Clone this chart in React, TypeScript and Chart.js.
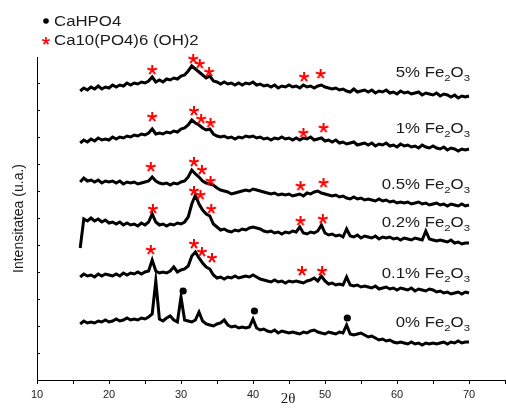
import React, { useEffect, useRef } from 'react';
import { Chart, registerables } from 'chart.js';

Chart.register(...registerables);

// 2θ sampling of every pattern: from 16° to 70° every 0.5°
const TWO_THETA_START = 16;
const TWO_THETA_STEP = 0.5;

// Intensities (a.u., already offset for stacking), one value per 0.5° step
const fe5 = [
  289, 292, 290, 293, 291, 294, 291, 293, 292, 295,
  293, 295, 294, 297, 295, 297, 296, 298, 297, 299,
  303, 298, 300, 298, 301, 300, 302, 301, 304, 305,
  309, 314, 311, 308, 305, 302, 304, 299, 298, 296,
  298, 296, 297, 295, 297, 295, 297, 296, 298, 295,
  296, 294, 295, 293, 295, 292, 294, 293, 295, 293,
  294, 292, 295, 293, 294, 292, 294, 295, 293, 292,
  291, 292, 290, 291, 289, 288, 291, 288, 289, 290,
  288, 290, 287, 289, 288, 290, 287, 288, 286, 289,
  287, 288, 286, 287, 288, 285, 287, 286, 285, 287,
  284, 286, 285, 283, 285, 282, 284, 283, 284,
];
const fe1 = [
  237, 240, 238, 241, 239, 242, 240, 241, 240, 243,
  241, 243, 242, 244, 243, 245, 244, 246, 245, 247,
  251, 246, 247, 246, 248, 247, 249, 248, 251, 252,
  255, 260, 257, 255, 252, 250, 251, 246, 244, 243,
  244, 242, 243, 241, 243, 242, 244, 243, 244, 242,
  243, 241, 242, 240, 242, 241, 243, 241, 242, 240,
  242, 240, 242, 241, 243, 240, 241, 242, 239, 240,
  238, 240, 237, 238, 236, 237, 238, 235, 236, 237,
  235, 237, 234, 236, 235, 237, 234, 235, 233, 236,
  234, 235, 233, 234, 232, 235, 233, 232, 234, 232,
  231, 233, 230, 232, 231, 229, 231, 230, 231,
];
const fe05 = [
  198, 202, 199, 200, 198, 200, 197, 199, 198, 199,
  197, 199, 196, 198, 197, 198, 196, 197, 198, 199,
  203, 199, 197, 196, 197, 195, 197, 196, 198, 199,
  203, 210, 206, 203, 199, 197, 196, 195, 192, 190,
  189, 188, 186, 187, 188, 189, 190, 189, 191, 190,
  189, 188, 187, 186, 187, 185, 186, 185, 186, 184,
  185, 186, 184, 187, 186, 188, 189, 187, 186, 185,
  184, 185, 183, 184, 182, 181, 183, 181, 182, 180,
  181, 180, 179, 181, 179, 180, 178, 179, 177, 178,
  177, 178, 176, 177, 178, 176, 177, 175, 176, 177,
  175, 176, 174, 176, 175, 174, 176, 174, 175,
];
const fe02 = [
  132, 161, 159, 162, 159, 161, 158, 160, 157, 158,
  156, 158, 155, 157, 155, 156, 154, 157, 155, 158,
  166, 158, 155, 156, 154, 156, 155, 157, 156, 158,
  163, 176, 185, 176, 170, 166, 164, 156, 153, 150,
  151, 149, 148, 150, 149, 151, 150, 152, 153, 152,
  151, 149, 148, 149, 147, 148, 146, 148, 147, 149,
  148, 153, 147, 146, 148, 147, 149, 155, 147, 145,
  146, 144, 145, 143, 151, 144, 143, 145, 142, 144,
  143, 142, 144, 141, 143, 142, 143, 141, 142, 140,
  142, 141, 140, 142, 141, 140, 149, 141, 140, 139,
  140, 139, 138, 140, 137, 138, 136, 137, 137,
];
const fe01 = [
  103, 106, 104, 105, 103, 106, 104, 106, 105, 104,
  106, 104, 107, 105, 107, 106, 108, 106, 108, 109,
  120, 109, 107, 108, 107, 109, 113, 108, 110, 111,
  114, 124, 128, 122, 117, 113, 111, 105, 102, 103,
  101, 103, 102, 104, 102, 103, 104, 103, 105, 103,
  101, 100, 99, 98, 100, 98, 99, 97, 99, 98,
  99, 98, 97, 99, 100, 102, 99, 104, 99, 96,
  97, 95, 96, 95, 103, 95, 94, 95, 93, 94,
  93, 92, 94, 91, 92, 93, 91, 92, 90, 92,
  91, 90, 92, 89, 91, 90, 89, 91, 90, 88,
  89, 87, 88, 86, 87, 88, 86, 88, 87,
];
const fe0 = [
  56, 59, 57, 58, 57, 59, 58, 60, 58, 59,
  61, 59, 60, 62, 60, 61, 60, 62, 61, 63,
  66, 99, 61, 59, 62, 64, 60, 58, 83, 60,
  59, 58, 60, 68, 59, 56, 55, 54, 56, 57,
  60, 55, 53, 54, 52, 53, 52, 53, 61, 52,
  50, 51, 49, 48, 50, 47, 49, 48, 47, 48,
  47, 46, 48, 47, 49, 50, 48, 47, 46, 48,
  47, 46, 48, 47, 55, 46, 45, 46, 47, 45,
  43, 44, 42, 40, 41, 39, 40, 38, 37, 38,
  37, 36, 38, 36, 37, 35, 37, 36, 37, 36,
  37, 38, 36, 38, 37, 39, 37, 38, 38,
];

// Ca10(PO4)6(OH)2 markers (red stars): 2θ and height
const star5X = [26.0, 31.7, 32.6, 33.9, 47.1, 49.4];
const star5Y = [310, 321, 316, 308, 303, 306];
const star1X = [26.0, 31.8, 32.8, 34.1, 47.0, 49.8];
const star1Y = [263, 269, 261, 257, 247, 252];
const star05X = [25.8, 31.8, 32.9, 34.1, 46.6, 49.8];
const star05Y = [213, 218, 210, 199, 194, 197];
const star02X = [26.1, 31.8, 32.7, 34.2, 46.6, 49.7];
const star02Y = [171, 189, 185, 171, 159, 161];
const star01X = [25.8, 31.8, 32.9, 34.3, 46.8, 49.6];
const star01Y = [130, 136, 128, 122, 109, 109];
// CaHPO4 markers (black dots) on the 0 % pattern
const dotX = [30.3, 40.2, 53.1];
const dotY = [89, 69, 62];

// Sample labels: Fe2O3 content and label height
const labelPct = ['5%', '1%', '0.5%', '0.2%', '0.1%', '0%'];
const labelY = [303.3, 247.3, 191, 153.3, 101.7, 52.7];
const LABEL_X = 70;

const series = [fe5, fe1, fe05, fe02, fe01, fe0];
const starXs = [star5X, star1X, star05X, star02X, star01X];
const starYs = [star5Y, star1Y, star05Y, star02Y, star01Y];

const SANS = '"Liberation Sans", Arial, sans-serif';
const STRETCH = 1.2;

function makeStar(size: number, r: number, lw: number) {
  const c = document.createElement('canvas');
  c.width = size;
  c.height = size;
  const g = c.getContext('2d')!;
  g.strokeStyle = '#ff0000';
  g.lineWidth = lw;
  g.lineCap = 'butt';
  const cx = size / 2;
  const cy = size / 2;
  for (let k = 0; k < 5; k++) {
    const a = -Math.PI / 2 + (k * 2 * Math.PI) / 5;
    g.beginPath();
    g.moveTo(cx, cy);
    g.lineTo(cx + r * Math.cos(a), cy + r * Math.sin(a));
    g.stroke();
  }
  return c;
}

function drawStretched(ctx: CanvasRenderingContext2D, text: string, x: number, y: number) {
  ctx.save();
  ctx.translate(x, y);
  ctx.scale(STRETCH, 1);
  ctx.fillText(text, 0, 0);
  ctx.restore();
}

function drawFormula(ctx: CanvasRenderingContext2D, pct: string, right: number, base: number) {
  const parts = [
    { t: pct + ' Fe', sub: false },
    { t: '2', sub: true },
    { t: 'O', sub: false },
    { t: '3', sub: true },
  ];
  const mainFont = '14px ' + SANS;
  const subFont = '9.5px ' + SANS;
  let total = 0;
  const widths = parts.map((p) => {
    ctx.font = p.sub ? subFont : mainFont;
    const w = ctx.measureText(p.t).width * STRETCH;
    total += w;
    return w;
  });
  let x = right - total;
  ctx.textAlign = 'left';
  ctx.textBaseline = 'alphabetic';
  parts.forEach((p, i) => {
    ctx.font = p.sub ? subFont : mainFont;
    drawStretched(ctx, p.t, x, p.sub ? base + 4 : base);
    x += widths[i];
  });
}

let legendStar: HTMLCanvasElement;

const decor = {
  id: 'decor',
  afterDraw(chart: any) {
    const { ctx, scales } = chart;
    const xs = scales.x;
    const ys = scales.y;
    ctx.save();
    // inward ticks on the intensity axis
    ctx.strokeStyle = '#000';
    ctx.lineWidth = 1;
    ys.ticks.forEach((t: any) => {
      if (t.value <= 0 || t.value >= ys.max) return;
      const py = Math.round(ys.getPixelForValue(t.value)) + 0.5;
      ctx.beginPath();
      ctx.moveTo(xs.left, py);
      ctx.lineTo(xs.left + 3, py);
      ctx.stroke();
    });
    // sample labels
    ctx.fillStyle = '#1a1a1a';
    labelPct.forEach((p, i) => {
      drawFormula(ctx, p, xs.getPixelForValue(LABEL_X) + 1, ys.getPixelForValue(labelY[i]));
    });
    // legend
    ctx.fillStyle = '#000';
    ctx.beginPath();
    ctx.arc(46, 21, 2.8, 0, Math.PI * 2);
    ctx.fill();
    ctx.drawImage(legendStar, 46 - legendStar.width / 2, 41 - legendStar.height / 2);
    ctx.fillStyle = '#1a1a1a';
    ctx.font = '14px ' + SANS;
    ctx.textAlign = 'left';
    ctx.textBaseline = 'alphabetic';
    drawStretched(ctx, 'CaHPO4', 54, 26);
    drawStretched(ctx, 'Ca10(PO4)6 (OH)2', 54, 44.5);
    // axis titles
    ctx.save();
    ctx.translate(19, (ys.top + ys.bottom) / 2);
    ctx.rotate(-Math.PI / 2);
    ctx.textAlign = 'center';
    ctx.textBaseline = 'middle';
    ctx.font = '14px ' + SANS;
    ctx.fillText('Intensitatea (u.a.)', 0, 0);
    ctx.restore();
    ctx.font = '15px "Liberation Serif", "Times New Roman", serif';
    ctx.textAlign = 'center';
    ctx.textBaseline = 'alphabetic';
    ctx.fillText('2θ', 288, 403);
    ctx.restore();
  },
};

export default function App() {
  const ref = useRef<HTMLCanvasElement>(null);
  useEffect(() => {
    const plotStar = makeStar(12, 5, 2);
    legendStar = makeStar(10, 4, 1.6);
    const toPoints = (vals: number[]) =>
      vals.map((v, i) => ({ x: TWO_THETA_START + i * TWO_THETA_STEP, y: v }));
    const lineSets = series.map((vals) => ({
      type: 'line' as const,
      data: toPoints(vals),
      borderColor: '#000',
      borderWidth: 3,
      pointRadius: 0,
      tension: 0,
      fill: false,
      order: 2,
    }));
    const starSet = {
      type: 'scatter' as const,
      data: starXs.flatMap((xsArr, i) => xsArr.map((x, j) => ({ x, y: starYs[i][j] }))),
      pointStyle: plotStar,
      pointRadius: 6,
      clip: false,
      order: 1,
    };
    const dotSet = {
      type: 'scatter' as const,
      data: dotX.map((x, i) => ({ x, y: dotY[i] })),
      pointStyle: 'circle',
      pointRadius: 3.6,
      backgroundColor: '#000',
      borderColor: '#000',
      borderWidth: 0,
      clip: false,
      order: 1,
    };
    const chart = new Chart(ref.current!, {
      type: 'line',
      data: { datasets: [...lineSets, starSet, dotSet] as any },
      options: {
        responsive: false,
        animation: false,
        devicePixelRatio: 1,
        events: [],
        layout: { autoPadding: false, padding: { top: 57, right: 1, left: 0, bottom: 0 } },
        plugins: { legend: { display: false }, tooltip: { enabled: false } },
        scales: {
          x: {
            type: 'linear',
            min: 10,
            max: 75,
            afterFit: (s: any) => {
              s.height = 30;
              s.paddingLeft = 0;
              s.paddingRight = 0;
            },
            border: { display: true, color: '#000', width: 1 },
            grid: { display: true, drawOnChartArea: false, drawTicks: true, tickLength: 4, color: '#000' },
            ticks: {
              stepSize: 5,
              autoSkip: false,
              maxRotation: 0,
              padding: 4,
              color: '#222',
              font: { family: SANS, size: 11 },
              callback: (v: any) => (Number(v) % 10 === 0 && Number(v) <= 70 ? String(v) : ''),
            },
          },
          y: {
            type: 'linear',
            min: 0,
            max: 323,
            afterFit: (s: any) => {
              s.width = 37;
              s.paddingTop = 0;
              s.paddingBottom = 0;
            },
            border: { display: true, color: '#000', width: 1 },
            grid: { display: false },
            ticks: { display: false, stepSize: 27 },
          },
        },
      },
      plugins: [decor],
    });
    return () => chart.destroy();
  }, []);
  return (
    <div style={{ position: 'absolute', left: 0, top: 0, width: 506, height: 410 }}>
      <canvas ref={ref} width={506} height={410} style={{ display: 'block', width: 506, height: 410 }} />
    </div>
  );
}
